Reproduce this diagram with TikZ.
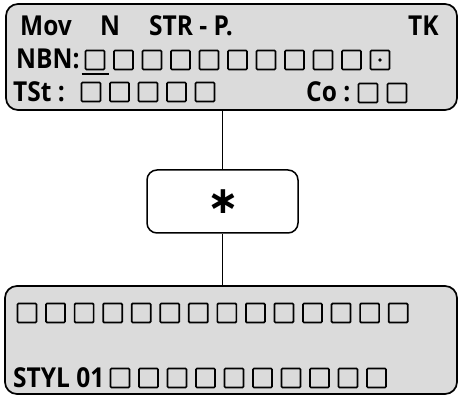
\documentclass[tikz,border=0pt]{standalone}
\usepackage{fontspec}
\setmainfont{Open Sans}
\newfontfamily\djvfont{DejaVu Sans}
\begin{document}
\begin{tikzpicture}[x=1pt,y=-1pt,
  panel/.style={draw, line width=1.7pt, rounded corners=12pt, fill=black!14, inner sep=0pt},
  midbox/.style={draw, line width=1.5pt, rounded corners=10pt, fill=white, inner sep=0pt},
  lbl/.style={anchor=base west, inner sep=0pt, yscale=1.12, transform shape, font=\fontsize{24.5}{25}\selectfont\bfseries},
  sq/.style={draw, line width=1.7pt, rounded corners=1pt, minimum size=19pt, inner sep=0pt},
  conn/.style={line width=1.3pt}]
\useasboundingbox (0,0) rectangle (459,398);
% panels
\node[panel, minimum width=451pt, minimum height=106pt] (top) at (231.5,57) {};
\node[midbox, minimum width=151pt, minimum height=63pt] (mid) at (222.5,201.5) {};
\node[inner sep=0pt, font=\fontsize{38}{38}\selectfont\djvfont\bfseries] (star) at (223.5,201.5) {∗};
\node[panel, minimum width=452pt, minimum height=108pt] (bot) at (231,340) {};
% connectors
\draw[conn] (mid.north |- top.south) -- (mid.north);
\draw[conn] (mid.south) -- (mid.south |- bot.north);
% top panel texts
\node[lbl] (tMov) at (20,36) {Mov};
\node[lbl] (tN) at (100,36) {N};
\node[lbl] (tSTR) at (149,36) {STR - P.};
\node[lbl] (tTK) at (408,36) {TK};
\node[lbl] (tNBN) at (16,69) {NBN:};
\node[lbl] (tTSt) at (13,102) {TSt :};
\node[lbl] (tCo) at (306,102) {Co :};
% NBN squares
\foreach \i in {1,...,11} {
  \node[sq] (nb\i) at ({95+28.5*(\i-1)},60) {};
}
\draw[line width=1.5pt] ([xshift=-3pt,yshift=-3.5pt]nb1.south west) coordinate (ulA) -- ([xshift=4pt,yshift=-3.5pt]nb1.south east) coordinate (ulB);
\fill (nb11.center) circle (1.8pt);
% TSt squares
\foreach \i in {1,...,5} {
  \node[sq] (ts\i) at ({91+28.5*(\i-1)},92) {};
}
% Co squares
\node[sq] (co1) at (368,93) {};
\node[sq] (co2) at (397,93) {};
% bottom panel
\foreach \i in {1,...,14} {
  \node[sq] (br\i) at ({27+28.55*(\i-1)},313) {};
}
\node[lbl] (tSTYL) at (13,388) {STYL 01};
\foreach \i in {1,...,10} {
  \node[sq] (st\i) at ({120+28.5*(\i-1)},378) {};
}
\end{tikzpicture}
\end{document}
